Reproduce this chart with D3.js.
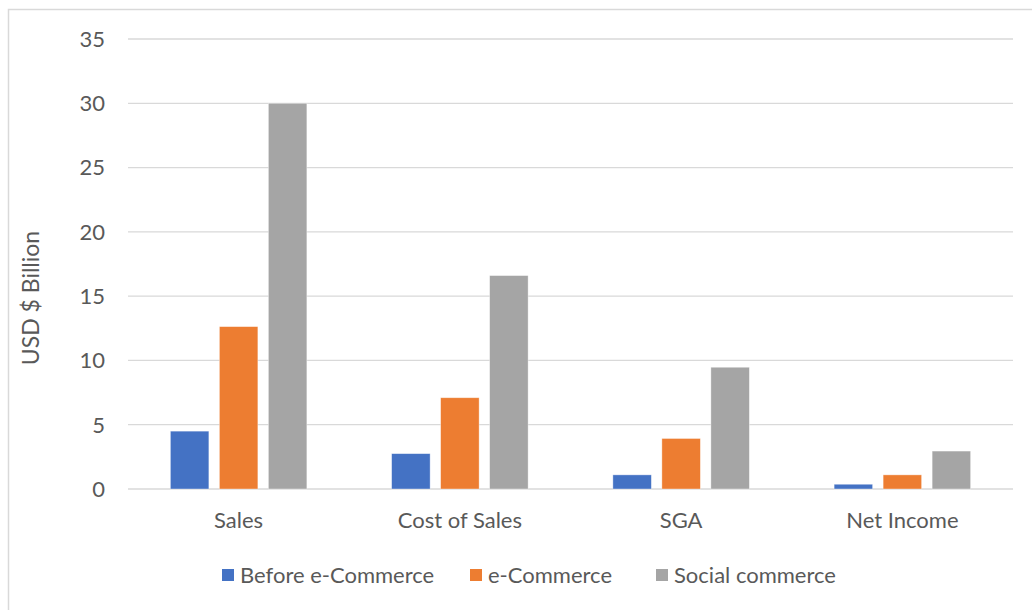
<!DOCTYPE html>
<html>
<head>
<meta charset="utf-8">
<script src="https://cdn.jsdelivr.net/npm/d3@7"></script>
<style>
  body { margin: 0; background: #fff; }
  text { font-family: Lato, "Open Sans", sans-serif; fill: #595959; }
</style>
</head>
<body>
<div id="canvas"></div>
<script>
// chart data
let categories = ["Sales", "Cost of Sales", "SGA", "Net Income"]
let seriesNames = ["Before e-Commerce", "e-Commerce", "Social commerce"]
let beforeEcommerce = [4.5, 2.75, 1.1, 0.37]
let eCommerce = [12.63, 7.1, 3.93, 1.1]
let socialCommerce = [30, 16.6, 9.47, 2.95]
let yTicks = [0, 5, 10, 15, 20, 25, 30, 35]
let colors = ["#4472c4", "#ed7d31", "#a5a5a5"]

window.onload = function () { setup() }

function setup() {
  let width = 1032, height = 610
  let margin = { left: 128, right: 19, top: 39, bottom: 120 }

  let svg = d3.select("#canvas")
    .append("svg")
    .attr("width", width)
    .attr("height", height)

  // outer chart border
  svg.append("rect")
    .attr("x", 8.5).attr("y", 9.5)
    .attr("width", width + 20).attr("height", height + 20)
    .attr("fill", "none")
    .attr("stroke", "#d9d9d9")
    .attr("stroke-width", 1.5)

  let x = d3.scaleBand()
    .domain(categories)
    .range([margin.left, width - margin.right])

  let y = d3.scaleLinear()
    .domain([0, 35])
    .range([height - margin.bottom - 1, margin.top])

  // gridlines
  svg.append("g")
    .selectAll("line")
    .data(yTicks)
    .join("line")
    .attr("x1", margin.left)
    .attr("x2", width - margin.right)
    .attr("y1", d => y(d))
    .attr("y2", d => y(d))
    .attr("stroke", "#d9d9d9")
    .attr("stroke-width", 1.3)

  // y tick labels
  svg.append("g")
    .selectAll("text")
    .data(yTicks)
    .join("text")
    .attr("x", 105)
    .attr("y", d => y(d))
    .attr("dy", "0.36em")
    .attr("text-anchor", "end")
    .style("font-size", "22px")
    .text(d => d)

  // bars
  let barW = 38.5, gap = 10.5
  let series = [beforeEcommerce, eCommerce, socialCommerce]
  let groupW = 3 * barW + 2 * gap

  series.forEach((vals, s) => {
    svg.append("g")
      .selectAll("rect")
      .data(vals)
      .join("rect")
      .attr("x", (d, i) => x(categories[i]) + x.bandwidth() / 2 - groupW / 2 + s * (barW + gap))
      .attr("y", d => y(d))
      .attr("width", barW)
      .attr("height", d => y(0) - y(d))
      .attr("fill", colors[s])
      .attr("stroke", "#fff")
      .attr("stroke-opacity", 0.5)
      .attr("stroke-width", 0.75)
  })

  // category labels
  svg.append("g")
    .selectAll("text")
    .data(categories)
    .join("text")
    .attr("x", d => x(d) + x.bandwidth() / 2)
    .attr("y", 528)
    .attr("text-anchor", "middle")
    .style("font-size", "22px")
    .text(d => d)

  // y axis title
  svg.append("text")
    .attr("transform", "translate(39," + 298 + ") rotate(-90)")
    .attr("text-anchor", "middle")
    .style("font-size", "23px")
    .text("USD $ Billion")

  // legend
  let legendX = [222, 470, 656]
  let legend = svg.append("g")
    .selectAll("g")
    .data(seriesNames)
    .join("g")
    .attr("transform", (d, i) => "translate(" + legendX[i] + ",569)")

  legend.append("rect")
    .attr("width", 12).attr("height", 12)
    .attr("fill", (d, i) => colors[i])

  legend.append("text")
    .attr("x", 18)
    .attr("y", 6)
    .attr("dy", "0.36em")
    .style("font-size", "22px")
    .text(d => d)
}
</script>
</body>
</html>
